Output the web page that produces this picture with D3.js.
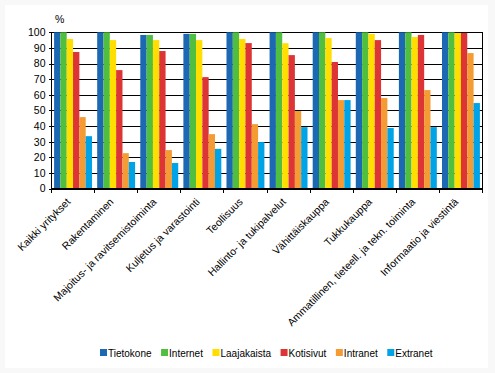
<!DOCTYPE html>
<html>
<head>
<meta charset="utf-8">
<script src="https://d3js.org/d3.v7.min.js"></script>
<style>
  body { margin: 0; background: #f8f8f8; }
  svg { display: block; font-family: "Liberation Sans", Arial, sans-serif; }
</style>
</head>
<body>
<svg id="chart" width="495" height="373"></svg>
<script>
// categories (toimialat)
const categories = ["Kaikki yritykset", "Rakentaminen", "Majoitus- ja ravitsemistoiminta",
  "Kuljetus ja varastointi", "Teollisuus", "Hallinto- ja tukipalvelut", "Vähittäiskauppa",
  "Tukkukauppa", "Ammatillinen, tieteell. ja tekn. toiminta", "Informaatio ja viestintä"];

// series, % of enterprises
const series = ["Tietokone", "Internet", "Laajakaista", "Kotisivut", "Intranet", "Extranet"];
const tietokone   = [100, 100, 98.3, 99, 100, 100, 100, 100, 100, 100];
const internet    = [100, 100, 98.3, 99, 100, 100, 100, 100, 100, 100];
const laajakaista = [95.7, 95, 95, 95, 95.7, 93, 96.3, 98.9, 97, 99.6];
const kotisivut   = [87.4, 75.8, 88, 71.3, 93.1, 85.4, 81, 95, 98.3, 99.6];
const intranet    = [45.7, 22.6, 24.6, 34.8, 41.2, 49.6, 56.6, 57.9, 63, 86.7];
const extranet    = [33.5, 17, 16.3, 25.4, 29.7, 39.3, 56.6, 38.7, 39.3, 54.7];
const yTicks = [0, 10, 20, 30, 40, 50, 60, 70, 80, 90, 100];

const colors = ["#1c68b2", "#50bf40", "#ffde00", "#dd3436", "#f49b33", "#00a3e6"];
const values = [tietokone, internet, laajakaista, kotisivut, intranet, extranet];

const svg = d3.select("#chart");
const W = 495, H = 373;

// faint outer frame, white card
svg.append("rect").attr("width", W).attr("height", H).attr("fill", "#f8f8f8");
svg.append("rect").attr("x", 5).attr("y", 5).attr("width", 483).attr("height", 363).attr("fill", "#fff");

const pLeft = 51.5, pRight = 482.5, pTop = 32.3, pBottom = 188.5;

const x0 = d3.scaleBand().domain(categories).range([pLeft, pRight])
  .paddingInner(0.12).paddingOuter(0.06);
const x1 = d3.scaleBand().domain(series).range([0, x0.bandwidth()]);
const y = d3.scaleLinear().domain([0, 100]).range([pBottom, pTop]);

// gridlines + y axis
const yAxis = d3.axisLeft(y).tickValues(yTicks).tickSize(-(pRight - pLeft)).tickPadding(6);
const gy = svg.append("g").attr("transform", `translate(${pLeft},0)`).call(yAxis);
gy.select(".domain").remove();
gy.selectAll("line").attr("stroke", "#000").attr("shape-rendering", "crispEdges").attr("x1", -3);
gy.attr("font-family", null).attr("font-size", 10.5);
gy.selectAll("text").attr("fill", "#000");

// bars
const rows = categories.map((c, i) => ({ c, vals: series.map((s, j) => ({ s, j, v: values[j][i] })) }));
svg.append("g").selectAll("g").data(rows).join("g")
  .attr("transform", d => `translate(${x0(d.c)},0)`)
  .selectAll("rect").data(d => d.vals).join("rect")
  .attr("x", d => x1(d.s))
  .attr("width", x1.bandwidth())
  .attr("y", d => y(d.v))
  .attr("height", d => y(0) - y(d.v))
  .attr("fill", d => colors[d.j]);

// frame lines
const frame = svg.append("g").attr("stroke", "#000").attr("shape-rendering", "crispEdges");
frame.append("line").attr("x1", pLeft).attr("x2", pLeft).attr("y1", pTop).attr("y2", pBottom);
frame.append("line").attr("x1", pRight).attr("x2", pRight).attr("y1", pTop).attr("y2", pBottom);
frame.append("line").attr("x1", pLeft).attr("x2", pRight).attr("y1", pBottom).attr("y2", pBottom);

// category boundary ticks
const step = x0.step();
const bounds = d3.range(categories.length + 1).map(i => pLeft + i * step);
frame.selectAll(".tk").data(bounds).join("line")
  .attr("x1", d => d).attr("x2", d => d).attr("y1", pBottom).attr("y2", pBottom + 4);

// category labels, rotated
svg.append("g").selectAll("text").data(categories).join("text")
  .attr("transform", d => `translate(${x0(d) + x0.bandwidth() / 2 - 2},${pBottom + 14}) rotate(-45)`)
  .attr("text-anchor", "end")
  .attr("font-size", 10.5)
  .text(d => d);

// unit
svg.append("text").attr("x", 55).attr("y", 23).attr("font-size", 10.5).text("%");

// legend
const lg = svg.append("g").attr("transform", "translate(100,349)");
let lx = 0;
series.forEach((s, j) => {
  const g = lg.append("g").attr("transform", `translate(${lx},0)`);
  g.append("rect").attr("width", 7).attr("height", 7).attr("fill", colors[j]);
  const t = g.append("text").attr("x", 8).attr("y", 7.5).attr("font-size", 10).text(s);
  lx += 8 + t.node().getComputedTextLength() + 9.5;
});
</script>
</body>
</html>
